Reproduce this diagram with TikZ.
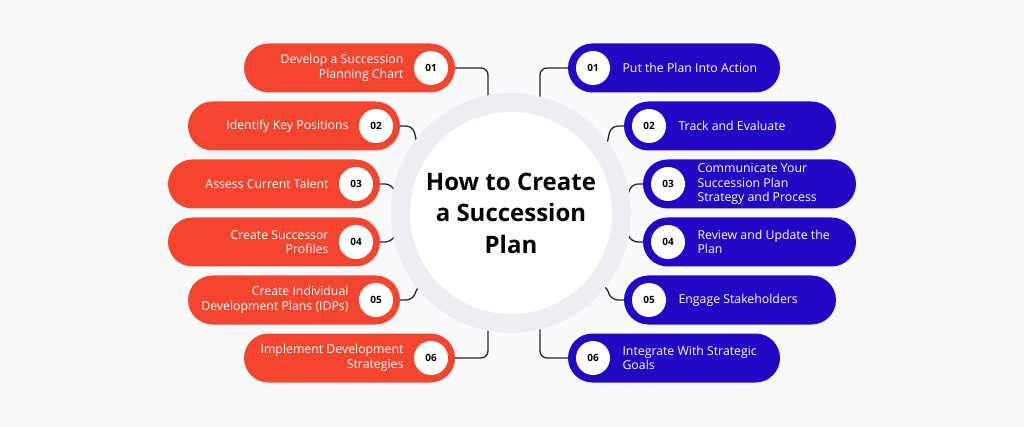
\documentclass[tikz,border=0pt]{standalone}
\usepackage{fontspec}
\setmainfont{Open Sans}
\begin{document}
\begin{tikzpicture}[x=1pt,y=-1pt,
  redp/.style={fill=red1,rounded corners=24.5pt,draw=none},
  bluep/.style={fill=blue1,rounded corners=24.5pt,draw=none},
  num/.style={circle,fill=white,minimum size=34pt,inner sep=0pt,font=\fontsize{10}{12}\selectfont\bfseries,text=black},
  lt/.style={text=white,font=\fontsize{12.3}{14.5}\selectfont,align=right,anchor=east},
  rt/.style={text=white,font=\fontsize{12.3}{14.5}\selectfont,align=left,anchor=west},
  con/.style={draw=black!85,line width=1.3pt,rounded corners=7pt}]
\definecolor{red1}{HTML}{F4452F}
\definecolor{blue1}{HTML}{2108C4}
\definecolor{ring}{HTML}{ECEEF1}
\fill[ring!30!white] (0,0) rectangle (1024,427);
\useasboundingbox (0,0) rectangle (1024,427);
\coordinate (c) at (511,213);
% connectors (behind)
\draw[con] (455,68) -- (488,68) -- (488,100);
\draw[con] (400,126) -- (413,126) -- (418,148) -- (440,148);
\draw[con] (380,184) -- (392,184) -- (397,197) -- (420,197);
\draw[con] (380,242) -- (392,242) -- (397,231) -- (420,231);
\draw[con] (400,300) -- (413,300) -- (418,285) -- (440,285);
\draw[con] (455,358) -- (488,358) -- (488,325);
\draw[con] (568,68) -- (540,68) -- (540,100);
\draw[con] (624,126) -- (611,126) -- (606,148) -- (585,148);
\draw[con] (643,184) -- (631,184) -- (626,203) -- (605,203);
\draw[con] (643,242) -- (631,242) -- (626,230) -- (605,230);
\draw[con] (624,300) -- (611,300) -- (606,285) -- (585,285);
\draw[con] (568,358) -- (540,358) -- (540,325);
% center
\fill[ring] (c) circle (120);
\node[circle,fill=white,minimum size=202pt,inner sep=0pt,align=center,font=\fontsize{24}{31.5}\selectfont\bfseries] (t) at (c) {How to Create\\a Succession\\Plan};
% left pills
\foreach \i/\xl/\xr/\y/\txt in {
 1/244/455/68/{Develop a Succession\\Planning Chart},
 2/188/400/126/{Identify Key Positions},
 3/168/380/184/{Assess Current Talent},
 4/168/380/242/{Create Successor\\Profiles},
 5/188/400/300/{Create Individual\\Development Plans (IDPs)},
 6/244/455/358/{Implement Development\\Strategies}}{
 \fill[redp] (\xl,\y-24.5) rectangle (\xr,\y+24.5);
 \node[num] (ln\i) at (\xr-24,\y) {0\i};
 \node[lt] (lt\i) at (\xr-48,\y) {\txt};
}
\foreach \i/\xl/\xr/\y/\txt in {
 1/568/780/68/{Put the Plan Into Action},
 2/624/836/126/{Track and Evaluate},
 3/643/856/184/{Communicate Your\\Succession Plan\\Strategy and Process},
 4/643/856/242/{Review and Update the\\Plan},
 5/624/836/300/{Engage Stakeholders},
 6/568/780/358/{Integrate With Strategic\\Goals}}{
 \fill[bluep] (\xl,\y-24.5) rectangle (\xr,\y+24.5);
 \node[num] (rn\i) at (\xl+25,\y) {0\i};
 \node[rt] (rt\i) at (\xl+51,\y) {\txt};
}
\end{tikzpicture}
\end{document}
